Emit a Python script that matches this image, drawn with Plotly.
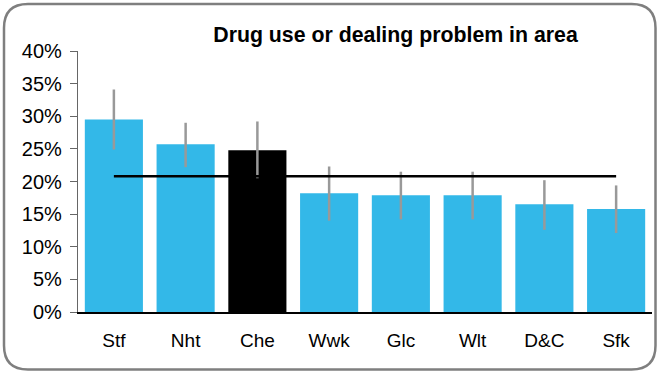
import plotly.graph_objects as go

categories = ["Stf", "Nht", "Che", "Wwk", "Glc", "Wlt", "D&C", "Sfk"]
values = [29.5, 25.7, 24.8, 18.2, 17.9, 17.9, 16.5, 15.8]
err_upper = [34.1, 29.0, 29.2, 22.3, 21.5, 21.5, 20.2, 19.4]
err_lower = [24.9, 22.2, 20.5, 14.0, 14.2, 14.2, 12.6, 12.1]
average = [20.8, 20.8, 20.8, 20.8, 20.8, 20.8, 20.8, 20.8]
highlight = "Che"
y_ticks = [0, 5, 10, 15, 20, 25, 30, 35, 40]
y_tick_labels = ["0%", "5%", "10%", "15%", "20%", "25%", "30%", "35%", "40%"]
title = "Drug use or dealing problem in area"

W, H = 657, 371
L, R, T, B = 78, 5, 51, 59
PW, PH = W - L - R, H - T - B

BLUE = "#33B8E8"
colors = ["#000000" if c == highlight else BLUE for c in categories]

fig = go.Figure()
fig.add_trace(go.Bar(
    x=categories, y=values, marker=dict(color=colors, line=dict(width=0)),
    error_y=dict(type="data", symmetric=False,
                 array=[u - v for u, v in zip(err_upper, values)],
                 arrayminus=[v - l for v, l in zip(values, err_lower)],
                 color="#999999", thickness=2.5, width=0),
    showlegend=False, hoverinfo="skip",
))
fig.add_trace(go.Scatter(
    x=categories, y=average, mode="lines",
    line=dict(color="#000000", width=2.5), showlegend=False, hoverinfo="skip",
))


def px_x(x):
    return (x - L) / PW


def px_y(y):
    return (H - B - y) / PH


# rounded outer border
x0, y0, x1, y1, r = 4, 4, 655.5, 369.5, 24
path = (
    f"M {px_x(x0 + r)},{px_y(y0)} L {px_x(x1 - r)},{px_y(y0)} "
    f"Q {px_x(x1)},{px_y(y0)} {px_x(x1)},{px_y(y0 + r)} "
    f"L {px_x(x1)},{px_y(y1 - r)} Q {px_x(x1)},{px_y(y1)} {px_x(x1 - r)},{px_y(y1)} "
    f"L {px_x(x0 + r)},{px_y(y1)} Q {px_x(x0)},{px_y(y1)} {px_x(x0)},{px_y(y1 - r)} "
    f"L {px_x(x0)},{px_y(y0 + r)} Q {px_x(x0)},{px_y(y0)} {px_x(x0 + r)},{px_y(y0)} Z"
)

fig.update_layout(
    width=W, height=H,
    margin=dict(l=L, r=R, t=T, b=B, pad=0),
    paper_bgcolor="white", plot_bgcolor="white",
    bargap=0.19,
    font=dict(family="Liberation Sans, Arial, sans-serif", color="#000000"),
    title=dict(text=f"<b>{title}</b>", x=px_x(395.5), xref="paper", xanchor="center",
               y=1 - 35 / H, yref="container", yanchor="middle",
               font=dict(size=21.3, color="#000000")),
    shapes=[dict(type="path", xref="paper", yref="paper", path=path,
                 line=dict(color="#7F7F7F", width=2.5), layer="above")],
)
fig.update_xaxes(
    showgrid=False, showline=True, linecolor="#000000", linewidth=1.5,
    ticks="", tickfont=dict(size=19), ticklabelstandoff=10,
    zeroline=False,
)
fig.update_yaxes(
    range=[0, 40], tickvals=y_ticks, ticktext=y_tick_labels,
    showgrid=False, showline=True, linecolor="#666666", linewidth=1.2,
    ticks="outside", ticklen=7, tickcolor="#666666", tickwidth=1.2,
    tickfont=dict(size=20), ticklabelstandoff=4, zeroline=False,
)

fig.write_html(
    "out.html",
    config={"displayModeBar": False},
    post_script="document.body.style.margin='0px';document.body.style.overflow='hidden';",
)
